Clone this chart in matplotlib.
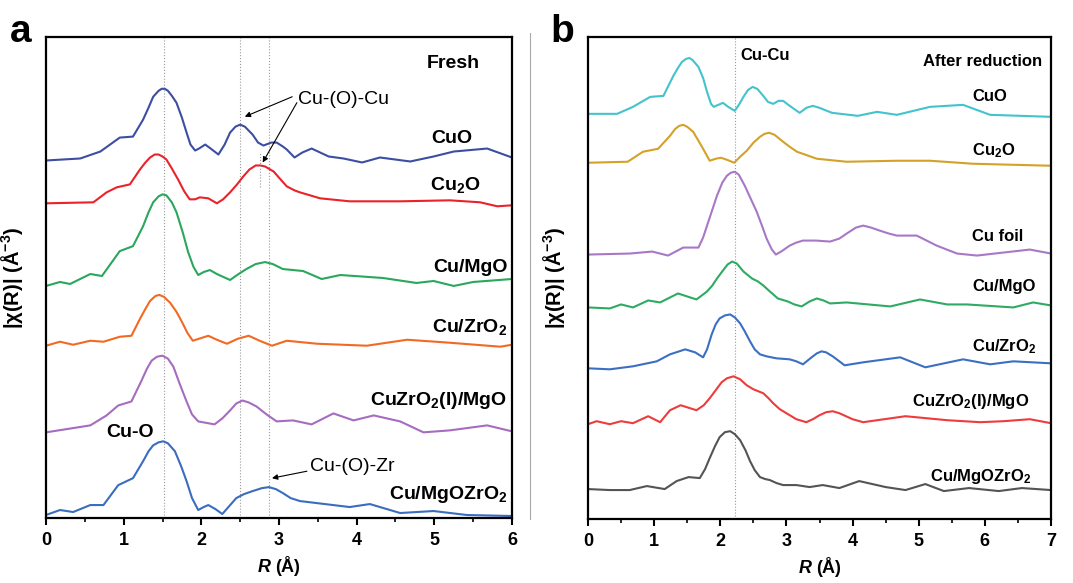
import matplotlib
matplotlib.use("Agg")
import matplotlib.pyplot as plt
from matplotlib.lines import Line2D

# Fourier-transformed EXAFS |chi(R)| spectra, curves stacked with offsets
# (arbitrary units incl. offset)

# ---- panel a: fresh samples ----
r_a_cuo = [0, 0.44, 0.7, 0.95, 1.12, 1.25, 1.32, 1.38, 1.45, 1.49, 1.53, 1.57, 1.62, 1.68, 1.75, 1.81,
           1.86, 1.92, 1.97, 2.05, 2.12, 2.22, 2.3, 2.37, 2.44, 2.5, 2.56, 2.66, 2.73, 2.8, 2.9, 2.97,
           3.05, 3.1, 3.2, 3.3, 3.42, 3.53, 3.64, 3.83, 4.07, 4.3, 4.69, 4.99, 5.25, 5.68, 6]
y_a_cuo = [357, 359, 366, 380, 381, 398, 410, 421, 427, 429, 429, 427, 422, 415, 400, 385,
           373, 367, 369, 373, 369, 363, 373, 385, 391, 393, 391, 383, 375, 372, 375, 375,
           371, 368, 360, 365, 369, 365, 361, 359, 355, 360, 356, 361, 366, 369, 360]

r_a_cu2o = [0, 0.61, 0.78, 0.91, 1.08, 1.21, 1.28, 1.34, 1.4, 1.45, 1.5, 1.55, 1.62, 1.7, 1.78, 1.85,
            1.92, 1.98, 2.09, 2.2, 2.28, 2.37, 2.46, 2.54, 2.62, 2.7, 2.76, 2.82, 2.93, 3.02, 3.1, 3.2,
            3.27, 3.53, 3.91, 4.56, 5.2, 5.59, 5.81, 6]
y_a_cu2o = [314, 315, 325, 330, 333, 348, 355, 360, 363, 363, 361, 358, 349, 338, 326, 318,
            318, 320, 319, 314, 318, 325, 333, 341, 348, 352, 352, 351, 346, 338, 331, 327,
            325, 319, 316, 316, 317, 315, 311, 312]

r_a_mgo = [0, 0.18, 0.31, 0.57, 0.72, 0.95, 1.12, 1.25, 1.32, 1.38, 1.45, 1.5, 1.55, 1.62, 1.68, 1.76,
           1.83, 1.9, 1.96, 2.03, 2.11, 2.2, 2.37, 2.48, 2.58, 2.7, 2.82, 2.92, 3.05, 3.31, 3.55, 3.79,
           4.34, 4.77, 4.99, 5.25, 5.5, 6]
y_a_mgo = [231, 235, 233, 243, 241, 266, 271, 291, 305, 315, 321, 323, 322, 315, 305, 285,
           265, 250, 242, 245, 247, 243, 237, 243, 248, 253, 255, 253, 248, 246, 238, 242,
           239, 234, 236, 231, 235, 238]

r_a_zro2 = [0, 0.18, 0.35, 0.57, 0.74, 0.95, 1.1, 1.21, 1.28, 1.34, 1.41, 1.46, 1.52, 1.6, 1.68, 1.75,
            1.82, 1.89, 1.97, 2.09, 2.2, 2.33, 2.47, 2.61, 2.75, 2.91, 3.1, 3.49, 4.13, 4.65, 5.2, 5.85, 6]
y_a_zro2 = [171, 175, 172, 176, 175, 180, 181, 198, 208, 216, 221, 222, 220, 214, 205, 195,
            184, 176, 178, 181, 177, 173, 178, 181, 176, 171, 176, 173, 171, 177, 174, 170, 172]

r_a_czm = [0, 0.57, 0.78, 0.93, 1.1, 1.23, 1.3, 1.36, 1.43, 1.5, 1.57, 1.64, 1.72, 1.81, 1.88, 1.96,
           2.17, 2.27, 2.37, 2.45, 2.53, 2.61, 2.71, 2.84, 2.97, 3.18, 3.42, 3.7, 3.96, 4.22, 4.56, 4.86,
           5.2, 5.68, 6]
y_a_czm = [84, 91, 101, 111, 115, 136, 148, 156, 160, 161, 158, 150, 133, 115, 102, 95,
           92, 98, 106, 113, 116, 114, 110, 102, 95, 96, 92, 103, 96, 101, 95, 84,
           86, 91, 85]

r_a_mz = [0, 0.18, 0.35, 0.57, 0.74, 0.93, 1.12, 1.25, 1.32, 1.38, 1.45, 1.51, 1.57, 1.66, 1.74, 1.81,
          1.88, 1.96, 2.03, 2.09, 2.18, 2.27, 2.36, 2.45, 2.55, 2.66, 2.78, 2.87, 2.96, 3.05, 3.15, 3.27,
          3.91, 4.17, 4.56, 4.99, 5.42, 6]
y_a_mz = [1, 6, 4, 11, 11, 31, 38, 55, 65, 71, 74, 75, 73, 65, 50, 35,
          18, 6, 9, 11, 7, 2, 10, 18, 22, 25, 28, 29, 27, 23, 18, 15,
          9, 12, 3, 5, 1, 0]

# ---- panel b: after reduction ----
r_b_cuo = [0, 0.44, 0.68, 0.94, 1.14, 1.29, 1.36, 1.42, 1.48, 1.53, 1.58, 1.67, 1.74, 1.8, 1.86, 1.9,
           1.97, 2.04, 2.12, 2.22, 2.29, 2.35, 2.42, 2.49, 2.56, 2.65, 2.72, 2.8, 2.88, 2.95, 3.05, 3.2,
           3.3, 3.4, 3.5, 3.69, 4.08, 4.37, 4.67, 5.17, 5.67, 6.08, 7]
y_b_cuo = [404, 404, 411, 421, 422, 442, 450, 456, 459, 460, 458, 451, 440, 426, 414, 411,
           413, 415, 411, 407, 414, 421, 428, 431, 429, 422, 416, 414, 417, 417, 412, 405,
           410, 412, 410, 405, 402, 406, 403, 411, 413, 403, 401]

r_b_cu2o = [0, 0.6, 0.83, 1.06, 1.24, 1.32, 1.38, 1.44, 1.5, 1.59, 1.67, 1.74, 1.84, 1.93, 2.01, 2.1,
            2.21, 2.3, 2.4, 2.5, 2.6, 2.67, 2.74, 2.82, 2.95, 3.05, 3.16, 3.46, 3.91, 4.67, 5.17, 5.82, 7]
y_b_cu2o = [355, 356, 366, 369, 382, 389, 392, 393, 391, 386, 377, 369, 357, 359, 360, 358,
            355, 361, 367, 375, 381, 384, 385, 383, 376, 371, 366, 359, 356, 357, 357, 354, 352]

r_b_foil = [0, 0.63, 0.97, 1.21, 1.44, 1.67, 1.74, 1.8, 1.88, 1.95, 2.03, 2.1, 2.16, 2.22, 2.28, 2.37,
            2.46, 2.55, 2.63, 2.7, 2.78, 2.84, 2.92, 3.05, 3.15, 3.25, 3.45, 3.66, 3.8, 3.91, 4.05, 4.16,
            4.28, 4.41, 4.55, 4.67, 4.97, 5.27, 5.58, 5.88, 6.28, 6.68, 7]
y_b_foil = [263, 264, 266, 262, 270, 270, 280, 292, 308, 322, 335, 342, 345, 346, 343, 332,
            319, 306, 292, 279, 268, 263, 266, 272, 275, 277, 277, 276, 279, 284, 290, 292,
            290, 287, 284, 282, 282, 272, 264, 262, 265, 268, 264]

r_b_mgo = [0, 0.33, 0.5, 0.68, 0.91, 1.09, 1.36, 1.64, 1.8, 1.88, 1.95, 2.04, 2.11, 2.18, 2.25, 2.35,
           2.48, 2.57, 2.65, 2.75, 2.87, 3.02, 3.12, 3.23, 3.35, 3.46, 3.56, 3.66, 3.91, 4.57, 5.02, 5.43,
           5.73, 6.43, 6.73, 7]
y_b_mgo = [210, 209, 213, 210, 217, 215, 224, 218, 226, 232, 239, 247, 253, 256, 254, 246,
           239, 236, 232, 226, 219, 216, 213, 211, 216, 219, 217, 214, 215, 211, 218, 213,
           213, 210, 215, 212]

r_b_zro2 = [0, 0.33, 0.68, 1.04, 1.24, 1.47, 1.62, 1.74, 1.8, 1.87, 1.93, 1.99, 2.07, 2.15, 2.22, 2.3,
            2.37, 2.45, 2.52, 2.6, 2.7, 2.85, 3.05, 3.15, 3.25, 3.38, 3.46, 3.53, 3.6, 3.7, 3.8, 3.88,
            4.16, 4.72, 5.1, 5.67, 6.08, 6.43, 7]
y_b_zro2 = [149, 148, 151, 156, 163, 168, 165, 160, 168, 183, 193, 199, 202, 203, 200, 194,
            186, 176, 168, 163, 161, 159, 158, 156, 153, 160, 164, 166, 165, 161, 156, 152,
            155, 160, 150, 158, 153, 156, 154]

r_b_czm = [0, 0.13, 0.33, 0.5, 0.68, 0.91, 1.09, 1.24, 1.4, 1.64, 1.75, 1.84, 1.93, 2.02, 2.1, 2.2,
           2.3, 2.4, 2.5, 2.65, 2.73, 2.8, 2.9, 3.0, 3.15, 3.3, 3.4, 3.5, 3.6, 3.7, 3.8, 3.9,
           4.0, 4.16, 4.8, 5.43, 5.93, 6.28, 6.68, 7]
y_b_czm = [93, 96, 93, 96, 94, 101, 95, 107, 112, 107, 112, 119, 127, 135, 139, 141,
           138, 132, 128, 124, 119, 114, 108, 104, 98, 95, 98, 102, 105, 106, 104, 101,
           98, 95, 101, 97, 95, 96, 98, 94]

r_b_mz = [0, 0.33, 0.63, 0.89, 1.16, 1.34, 1.52, 1.69, 1.77, 1.84, 1.92, 1.99, 2.07, 2.15, 2.22, 2.3,
          2.38, 2.45, 2.52, 2.6, 2.68, 2.75, 2.85, 2.95, 3.15, 3.35, 3.55, 3.8, 4.1, 4.5, 4.8, 5.1,
          5.38, 5.76, 6.21, 6.56, 7]
y_b_mz = [28, 27, 27, 31, 28, 36, 40, 39, 48, 59, 71, 80, 85, 86, 83, 77,
          67, 56, 47, 40, 38, 37, 34, 32, 32, 30, 32, 29, 36, 30, 27, 33,
          26, 29, 26, 29, 27]

# reference lines (Cu-O, Cu-(O)-Cu, Cu-(O)-Zr ; Cu-Cu)
vlines_a = [1.52, 2.5, 2.87]
vlines_b = [2.22]

plt.rcParams['font.family'] = ['Liberation Sans', 'DejaVu Sans']
plt.rcParams['font.weight'] = 'bold'
plt.rcParams['mathtext.fontset'] = 'custom'
plt.rcParams['mathtext.rm'] = 'Liberation Sans'
plt.rcParams['mathtext.bf'] = 'Liberation Sans:bold'
plt.rcParams['mathtext.it'] = 'Liberation Sans:style=italic:weight=bold'
plt.rcParams['mathtext.default'] = 'bf'

fig = plt.figure(figsize=(10.73, 5.83), dpi=100)
ax_a = fig.add_axes([46 / 1073, 1 - 518 / 583, 466 / 1073, 481 / 583])
ax_b = fig.add_axes([588 / 1073, 1 - 519 / 583, 463 / 1073, 482 / 583])

lw = 1.5
curves_a = [
    (r_a_cuo, y_a_cuo, '#3d4ea2'),
    (r_a_cu2o, y_a_cu2o, '#ea2229'),
    (r_a_mgo, y_a_mgo, '#2aa75c'),
    (r_a_zro2, y_a_zro2, '#f26a22'),
    (r_a_czm, y_a_czm, '#a66cbf'),
    (r_a_mz, y_a_mz, '#3a6cc0'),
]
for r, y, c in curves_a:
    ax_a.plot(r, y, color=c, lw=lw, solid_joinstyle='round')

curves_b = [
    (r_b_cuo, y_b_cuo, '#43c3cb'),
    (r_b_cu2o, y_b_cu2o, '#d4a129'),
    (r_b_foil, y_b_foil, '#a878c6'),
    (r_b_mgo, y_b_mgo, '#2eaa62'),
    (r_b_zro2, y_b_zro2, '#3b6fc2'),
    (r_b_czm, y_b_czm, '#ee3b3b'),
    (r_b_mz, y_b_mz, '#545454'),
]
for r, y, c in curves_b:
    ax_b.plot(r, y, color=c, lw=lw, solid_joinstyle='round')

for x in vlines_a:
    ax_a.axvline(x, color='#999999', lw=0.8, ls=':', zorder=0)
for x in vlines_b:
    ax_b.axvline(x, color='#999999', lw=0.8, ls=':', zorder=0)
# small marker at the Cu2O peak
ax_a.plot([2.75, 2.75], [330, 366], color='#999999', lw=0.8, ls=':')

# axes styling
for ax, xmax in [(ax_a, 6), (ax_b, 7)]:
    ax.set_xlim(0, xmax)
    ax.set_ylim(-2, 481)
    ax.set_yticks([])
    ax.set_xticks(range(xmax + 1))
    ax.set_xticks([i + 0.5 for i in range(xmax)], minor=True)
    ax.tick_params(axis='x', which='major', direction='out', length=5, width=1.5, labelsize=13, pad=5)
    ax.tick_params(axis='x', which='minor', direction='out', length=3, width=1.2)
    for lab in ax.get_xticklabels():
        lab.set_fontweight('bold')
    for s in ax.spines.values():
        s.set_linewidth(1.6)
    ax.set_xlabel(r'$\mathit{R}$ (Å)', fontsize=13, fontweight='bold', labelpad=4)
    ax.set_ylabel('|χ(R)| (Å$^{-3}$)', fontsize=14.5, fontweight='bold')
    ax.yaxis.set_label_coords(-0.045, 0.5)

# panel a labels
fs_a = 14
ax_a.text(4.9, 450, 'Fresh', fontsize=fs_a, fontweight='bold')
ax_a.text(5.49, 375, 'CuO', fontsize=fs_a, ha='right')
ax_a.text(5.59, 327, 'Cu$_2$O', fontsize=fs_a, ha='right')
ax_a.text(5.94, 245, 'Cu/MgO', fontsize=fs_a, ha='right')
ax_a.text(5.94, 185, 'Cu/ZrO$_2$', fontsize=fs_a, ha='right')
ax_a.text(5.94, 111, 'CuZrO$_2$(I)/MgO', fontsize=fs_a, ha='right')
ax_a.text(5.94, 17, 'Cu/MgOZrO$_2$', fontsize=fs_a, ha='right')
ax_a.text(0.77, 79, 'Cu-O', fontsize=fs_a)
ax_a.text(3.24, 414, 'Cu-(O)-Cu', fontsize=fs_a, fontweight='normal')
ax_a.text(3.40, 45, 'Cu-(O)-Zr', fontsize=fs_a, fontweight='normal')
arrow = dict(arrowstyle='-|>', color='black', lw=0.8, mutation_scale=8, shrinkA=0, shrinkB=0)
ax_a.annotate('', xy=(2.56, 401), xytext=(3.17, 421), arrowprops=arrow)
ax_a.annotate('', xy=(2.79, 355), xytext=(3.23, 415), arrowprops=arrow)
ax_a.annotate('', xy=(2.91, 38), xytext=(3.36, 45), arrowprops=arrow)

# panel b labels
fs_b = 12
ax_b.text(5.07, 452, 'After reduction', fontsize=fs_b)
ax_b.text(2.31, 458, 'Cu-Cu', fontsize=fs_b)
ax_b.text(5.81, 417, 'CuO', fontsize=fs_b)
ax_b.text(5.81, 362, 'Cu$_2$O', fontsize=fs_b)
ax_b.text(5.81, 277, 'Cu foil', fontsize=fs_b)
ax_b.text(5.81, 226, 'Cu/MgO', fontsize=fs_b)
ax_b.text(5.81, 166, 'Cu/ZrO$_2$', fontsize=fs_b)
ax_b.text(4.90, 111, 'CuZrO$_2$(I)/MgO', fontsize=fs_b)
ax_b.text(5.17, 36, 'Cu/MgOZrO$_2$', fontsize=fs_b)

# panel letters and thin separator
fig.text(10 / 1073, 1 - 42 / 583, 'a', fontsize=28, fontweight='bold')
fig.text(550 / 1073, 1 - 42 / 583, 'b', fontsize=28, fontweight='bold')
fig.add_artist(Line2D([530 / 1073] * 2, [1 - 33 / 583, 1 - 519 / 583], color='#aaaaaa', lw=0.8))

fig.savefig('out.png', dpi=100)
